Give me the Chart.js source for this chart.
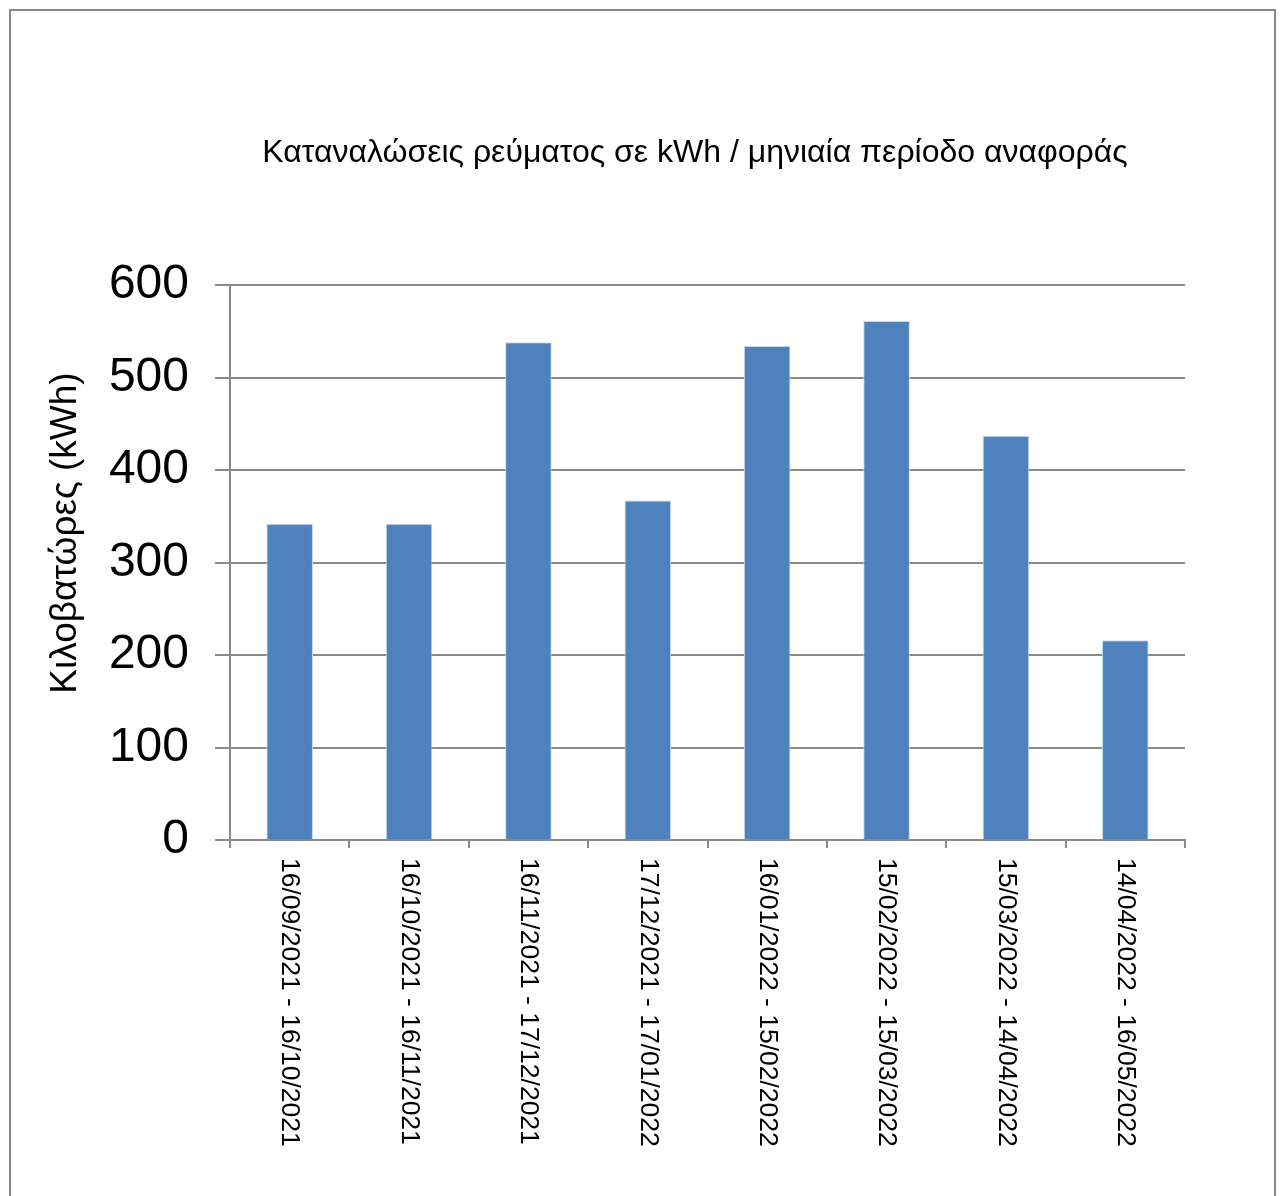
<!DOCTYPE html>
<html>
<head>
<meta charset="utf-8">
<script src="https://cdn.jsdelivr.net/npm/chart.js@4/dist/chart.umd.min.js"></script>
<style>
  html, body { margin: 0; padding: 0; background: #ffffff; }
  #wrap { position: relative; width: 1284px; height: 1196px; }
</style>
</head>
<body>
<div id="wrap"><canvas id="c" width="1284" height="1196"></canvas></div>
<script>
// Monthly billing periods and consumption in kWh
const periods = [
  '16/09/2021 - 16/10/2021',
  '16/10/2021 - 16/11/2021',
  '16/11/2021 - 17/12/2021',
  '17/12/2021 - 17/01/2022',
  '16/01/2022 - 15/02/2022',
  '15/02/2022 - 15/03/2022',
  '15/03/2022 - 14/04/2022',
  '14/04/2022 - 16/05/2022'
];
const consumption = [342, 342, 538, 367, 534, 561, 437, 216];
const yTicks = [0, 100, 200, 300, 400, 500, 600];

const chartTitle = 'Καταναλώσεις ρεύματος σε kWh / μηνιαία περίοδο αναφοράς';
const yAxisTitle = 'Κιλοβατώρες (kWh)';

const FONT = '"Liberation Sans", Arial, sans-serif';
const GRID = '#8a8a8a';

// Frame, title, axis title and vertical category labels
const decorations = {
  id: 'decorations',
  beforeDraw(chart) {
    const ctx = chart.ctx;
    ctx.save();
    ctx.strokeStyle = GRID;
    ctx.lineWidth = 2;
    ctx.strokeRect(10, 10, 1265, 1300);
    ctx.restore();
  },
  afterDraw(chart) {
    const ctx = chart.ctx;
    const area = chart.chartArea;
    const xs = chart.scales.x;
    ctx.save();
    ctx.fillStyle = '#000000';

    ctx.font = '32px ' + FONT;
    ctx.textAlign = 'center';
    ctx.textBaseline = 'middle';
    ctx.fillText(chartTitle, 695, 153);

    ctx.save();
    ctx.translate(66, 533);
    ctx.rotate(-Math.PI / 2);
    ctx.font = '37px ' + FONT;
    ctx.fillText(yAxisTitle, 0, 0);
    ctx.restore();

    ctx.font = '26.5px ' + FONT;
    ctx.textAlign = 'left';
    ctx.textBaseline = 'middle';
    periods.forEach((p, i) => {
      const x = xs.getPixelForTick(i);
      ctx.save();
      ctx.translate(x, area.bottom + 18);
      ctx.rotate(Math.PI / 2);
      ctx.fillText(p, 0, 0);
      ctx.restore();
    });
    ctx.restore();
  }
};

new Chart(document.getElementById('c'), {
  type: 'bar',
  data: {
    labels: periods,
    datasets: [{
      data: consumption,
      backgroundColor: '#4f81bd',
      borderColor: '#c9d8ec',
      borderWidth: 1,
      categoryPercentage: 1,
      barPercentage: 0.39
    }]
  },
  options: {
    responsive: false,
    animation: false,
    layout: { padding: { left: 100, right: 99, top: 285, bottom: 348 } },
    plugins: {
      legend: { display: false },
      title: { display: false },
      tooltip: { enabled: false }
    },
    scales: {
      x: {
        offset: true,
        grid: {
          offset: true,
          drawOnChartArea: false,
          drawTicks: true,
          tickLength: 8,
          color: GRID,
          lineWidth: 2
        },
        border: { display: true, color: GRID, width: 2 },
        ticks: { display: false },
        afterFit(scale) { scale.height = 8; }
      },
      y: {
        min: 0,
        max: 600,
        afterBuildTicks(scale) { scale.ticks = yTicks.map(v => ({ value: v })); },
        grid: {
          color: GRID,
          lineWidth: 2,
          drawTicks: true,
          tickLength: 15
        },
        border: { display: true, color: GRID, width: 2 },
        ticks: {
          padding: 26,
          color: '#000000',
          font: { family: FONT, size: 48 }
        },
        afterFit(scale) { scale.width = 130; }
      }
    }
  },
  plugins: [decorations]
});
</script>
</body>
</html>
